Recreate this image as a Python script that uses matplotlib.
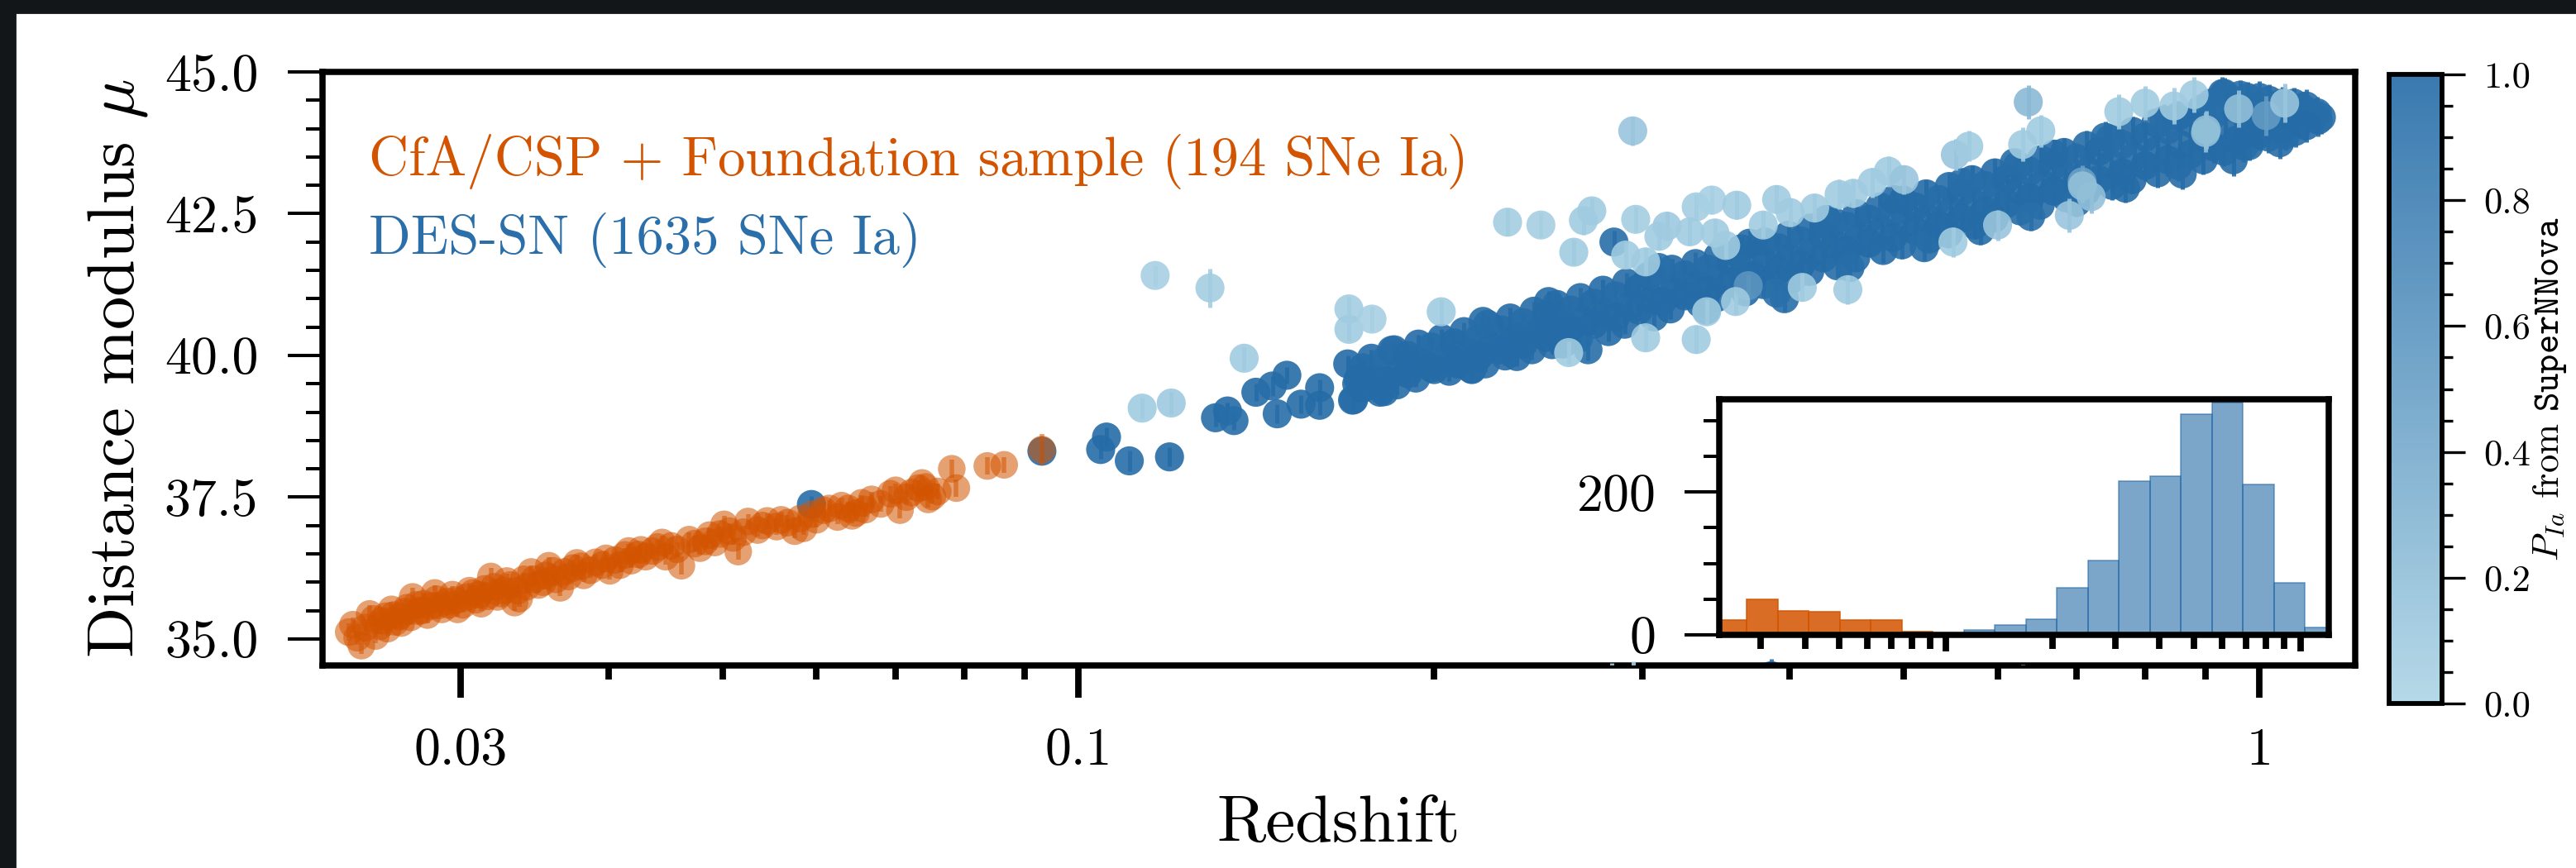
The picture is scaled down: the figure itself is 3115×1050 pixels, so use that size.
import numpy as np
import matplotlib.pyplot as plt
from matplotlib.colors import LinearSegmentedColormap
from matplotlib.patches import Rectangle
from matplotlib.ticker import (FixedLocator, FixedFormatter, LogLocator,
                               MultipleLocator, NullFormatter, FormatStrFormatter)

plt.rcParams['font.family'] = 'serif'
plt.rcParams['font.serif'] = ['cmr10']
plt.rcParams['mathtext.fontset'] = 'cm'
plt.rcParams['axes.unicode_minus'] = False
plt.rcParams['axes.formatter.use_mathtext'] = True

# CfA/CSP + Foundation low-z sample
low_z = [0.0241, 0.0247, 0.0251, 0.0254, 0.0257, 0.0260, 0.0262, 0.0264, 0.0266, 0.0270,
         0.0273, 0.0276, 0.0279, 0.0281, 0.0285, 0.0287, 0.0292, 0.0295, 0.0298, 0.0303,
         0.0307, 0.0309, 0.0312, 0.0314, 0.0318, 0.0322, 0.0326, 0.0330, 0.0333, 0.0336,
         0.0341, 0.0344, 0.0346, 0.0352, 0.0356, 0.0361, 0.0364, 0.0370, 0.0376, 0.0381,
         0.0386, 0.0395, 0.0401, 0.0405, 0.0413, 0.0418, 0.0424, 0.0426, 0.0436, 0.0440,
         0.0447, 0.0452, 0.0461, 0.0468, 0.0478, 0.0487, 0.0497, 0.0501, 0.0510, 0.0515,
         0.0525, 0.0535, 0.0545, 0.0555, 0.0567, 0.0581, 0.0585, 0.0595, 0.0608, 0.0625,
         0.0630, 0.0643, 0.0648, 0.0660, 0.0668, 0.0693, 0.0706, 0.0715, 0.0732, 0.0737,
         0.0746, 0.0752, 0.0760, 0.0781, 0.0788, 0.0837, 0.0865, 0.0931,
         0.0243, 0.0245, 0.0249, 0.0253, 0.0256, 0.0259, 0.0263, 0.0267, 0.0269, 0.0272,
         0.0275, 0.0278, 0.0283, 0.0286, 0.0289, 0.0293, 0.0297, 0.0301, 0.0305, 0.0311,
         0.0316, 0.0320, 0.0324, 0.0328, 0.0335, 0.0339, 0.0349, 0.0354, 0.0359, 0.0367,
         0.0373, 0.0379, 0.0390, 0.0398, 0.0409, 0.0416, 0.0430, 0.0444, 0.0457, 0.0473,
         0.0483, 0.0492, 0.0506, 0.0520, 0.0540, 0.0560, 0.0575, 0.0600, 0.0615, 0.0638,
         0.0655, 0.0680, 0.0700, 0.0722, 0.0742]
low_mu = [35.12, 34.88, 35.44, 35.05, 35.32, 35.18, 35.52, 35.30, 35.39, 35.55,
          35.74, 35.49, 35.62, 35.42, 35.81, 35.59, 35.66, 35.78, 35.52, 35.73,
          35.81, 35.69, 35.62, 35.88, 36.10, 35.74, 35.85, 35.95, 35.64, 35.71,
          35.92, 36.18, 36.05, 36.00, 36.29, 36.05, 35.90, 36.10, 36.34, 36.12,
          36.21, 36.30, 36.20, 36.39, 36.48, 36.38, 36.49, 36.57, 36.55, 36.62,
          36.45, 36.64, 36.29, 36.75, 36.60, 36.83, 36.85, 37.02, 36.78, 36.54,
          37.07, 36.92, 37.08, 36.98, 37.05, 37.12, 36.95, 37.20, 37.27, 37.15,
          37.35, 37.17, 37.22, 37.28, 37.46, 37.56, 37.27, 37.50, 37.66, 37.75,
          37.46, 37.51, 37.60, 38.00, 37.66, 38.05, 38.07, 38.34,
          35.25, 35.02, 35.20, 35.35, 35.22, 35.40, 35.42, 35.28, 35.48, 35.38,
          35.60, 35.50, 35.58, 35.70, 35.52, 35.60, 35.68, 35.60, 35.85, 35.78,
          35.75, 35.92, 35.80, 36.02, 35.85, 36.05, 35.95, 36.12, 36.20, 36.18,
          36.25, 36.28, 36.35, 36.42, 36.30, 36.55, 36.45, 36.70, 36.58, 36.68,
          36.72, 36.70, 36.90, 36.88, 37.00, 37.10, 36.90, 37.10, 37.30, 37.30,
          37.40, 37.38, 37.62, 37.58, 37.68]
low_err = [0.15, 0.14, 0.16, 0.12, 0.15, 0.13, 0.14, 0.12, 0.15, 0.13,
           0.16, 0.14, 0.12, 0.15, 0.13, 0.12, 0.14, 0.15, 0.13, 0.12,
           0.14, 0.16, 0.13, 0.12, 0.15, 0.14, 0.13, 0.12, 0.15, 0.14,
           0.13, 0.12, 0.14, 0.13, 0.15, 0.12, 0.14, 0.13, 0.15, 0.12,
           0.14, 0.13, 0.15, 0.14, 0.12, 0.13, 0.15, 0.14, 0.13, 0.12,
           0.14, 0.15, 0.16, 0.13, 0.12, 0.14, 0.13, 0.15, 0.12, 0.14,
           0.13, 0.12, 0.14, 0.15, 0.13, 0.14, 0.12, 0.13, 0.15, 0.12,
           0.14, 0.13, 0.15, 0.12, 0.14, 0.13, 0.15, 0.12, 0.14, 0.13,
           0.15, 0.12, 0.14, 0.16, 0.15, 0.15, 0.14, 0.28,
           0.13, 0.12, 0.14, 0.13, 0.12, 0.14, 0.13, 0.12, 0.13, 0.14,
           0.12, 0.13, 0.14, 0.12, 0.13, 0.14, 0.12, 0.13, 0.14, 0.12,
           0.13, 0.14, 0.12, 0.13, 0.14, 0.12, 0.13, 0.14, 0.12, 0.13,
           0.14, 0.12, 0.13, 0.14, 0.12, 0.13, 0.14, 0.12, 0.13, 0.14,
           0.12, 0.13, 0.14, 0.12, 0.13, 0.14, 0.12, 0.13, 0.14, 0.12,
           0.13, 0.14, 0.12, 0.13, 0.14]

# DES-SN, high-probability SNe Ia
des_z = [0.0594, 0.0931, 0.1044, 0.1056, 0.1104, 0.1194, 0.1306, 0.1337, 0.1354, 0.1413,
         0.1459, 0.1473, 0.1501, 0.1543, 0.1600, 0.1600, 0.1706, 0.1725, 0.1815, 0.1841,
         0.1946, 0.2000, 0.2094, 0.2153, 0.2214, 0.2297, 0.2362, 0.2451, 0.2517, 0.2556,
         0.169, 0.172, 0.171, 0.177, 0.179, 0.180, 0.185, 0.187, 0.186, 0.194, 0.196, 0.193,
         0.203, 0.205, 0.206, 0.212, 0.214, 0.215, 0.222, 0.224, 0.221, 0.232, 0.234, 0.235,
         0.243, 0.245, 0.242, 0.254, 0.256, 0.257, 0.266, 0.268, 0.265,
         0.278, 0.280, 0.281, 0.284, 0.291, 0.293, 0.290, 0.304, 0.306, 0.307,
         0.318, 0.320, 0.317, 0.333, 0.335, 0.336, 0.348, 0.350, 0.347, 0.364, 0.366, 0.367,
         0.381, 0.383, 0.380, 0.399, 0.401, 0.402, 0.396, 0.417, 0.419, 0.416,
         0.436, 0.438, 0.439, 0.456, 0.458, 0.455, 0.477, 0.479, 0.480, 0.499, 0.501, 0.498,
         0.522, 0.524, 0.525, 0.546, 0.548, 0.545, 0.571, 0.573, 0.574, 0.597, 0.599, 0.596,
         0.624, 0.626, 0.627, 0.653, 0.655, 0.652, 0.683, 0.685, 0.686, 0.714, 0.716, 0.713,
         0.747, 0.749, 0.750, 0.781, 0.783, 0.780, 0.817, 0.819, 0.820, 0.854, 0.856, 0.853,
         0.893, 0.895, 0.896, 0.934, 0.936, 0.933, 0.977, 0.979, 0.980, 1.019, 1.021, 1.018,
         1.069, 1.071, 1.072, 1.119, 1.121,
         1.128, 1.086, 1.035, 0.963, 0.930, 0.976, 0.970, 1.052, 0.3860]
des_mu = [37.37, 38.31, 38.34, 38.56, 38.14, 38.21, 38.90, 39.02, 38.85, 39.35,
          39.46, 38.97, 39.65, 39.14, 39.43, 39.12, 39.21, 39.58, 39.36, 40.09,
          39.89, 39.75, 39.85, 39.75, 40.09, 39.99, 40.33, 40.43, 40.19, 40.67,
          39.85, 39.50, 39.22, 39.95, 39.58, 39.35, 40.10, 39.72, 39.48, 40.20, 39.85, 39.60,
          40.30, 39.95, 39.72, 40.42, 40.05, 39.76, 40.55, 40.15, 39.85, 40.66, 40.28, 39.98,
          40.78, 40.40, 40.10, 40.90, 40.52, 40.20, 41.02, 40.62, 40.30,
          41.15, 40.75, 40.42, 42.00, 41.28, 40.88, 40.55, 41.40, 41.00, 40.68,
          41.52, 41.12, 40.82, 41.62, 41.25, 40.92, 41.75, 41.35, 41.02, 41.88, 41.46, 41.12,
          42.00, 41.60, 41.25, 42.12, 41.72, 41.35, 41.00, 42.25, 41.82, 41.48,
          42.36, 41.95, 41.58, 42.50, 42.08, 41.72, 42.62, 42.20, 41.85, 42.74, 42.32, 41.95,
          42.85, 42.42, 42.05, 42.98, 42.55, 42.15, 43.10, 42.68, 42.30, 43.22, 42.80, 42.42,
          43.35, 42.92, 42.55, 43.45, 43.02, 42.65, 43.58, 43.15, 42.78, 43.70, 43.25, 42.90,
          43.82, 43.38, 43.00, 43.95, 43.50, 43.10, 44.10, 43.62, 43.22, 44.22, 43.72, 43.35,
          44.35, 43.85, 43.45, 44.62, 44.05, 43.60, 44.55, 44.12, 43.70, 44.50, 44.15, 43.85,
          44.45, 44.25, 43.95, 44.28, 44.15,
          44.20, 44.37, 44.20, 44.59, 44.62, 44.18, 43.69, 43.89, 34.35]
des_err = [0.15, 0.18, 0.16, 0.17, 0.18, 0.17, 0.16, 0.15, 0.17, 0.16,
           0.18, 0.17, 0.15, 0.16, 0.15, 0.17, 0.16, 0.15, 0.16, 0.15,
           0.16, 0.17, 0.15, 0.16, 0.15, 0.17, 0.16, 0.15, 0.16, 0.15,
           0.15, 0.16, 0.14, 0.15, 0.17, 0.16, 0.15, 0.14, 0.16, 0.17, 0.15, 0.16,
           0.16, 0.15, 0.17, 0.16, 0.15, 0.18, 0.17, 0.16, 0.15, 0.18, 0.16, 0.17,
           0.17, 0.16, 0.18, 0.18, 0.17, 0.16, 0.18, 0.17, 0.19,
           0.19, 0.18, 0.17, 0.20, 0.18, 0.19, 0.17, 0.20, 0.18, 0.19,
           0.19, 0.20, 0.18, 0.20, 0.19, 0.21, 0.21, 0.19, 0.20, 0.20, 0.22, 0.19,
           0.21, 0.20, 0.22, 0.22, 0.21, 0.20, 0.23, 0.22, 0.21, 0.23,
           0.23, 0.22, 0.21, 0.24, 0.22, 0.23, 0.23, 0.24, 0.22, 0.25, 0.23, 0.24,
           0.24, 0.25, 0.23, 0.24, 0.24, 0.25, 0.25, 0.24, 0.24, 0.25, 0.25, 0.24,
           0.25, 0.24, 0.25, 0.26, 0.25, 0.24, 0.25, 0.26, 0.25, 0.26, 0.25, 0.26,
           0.26, 0.25, 0.26, 0.27, 0.26, 0.25, 0.26, 0.27, 0.26, 0.27, 0.26, 0.27,
           0.27, 0.28, 0.26, 0.28, 0.27, 0.26, 0.28, 0.27, 0.26, 0.28, 0.27, 0.28,
           0.28, 0.27, 0.28, 0.29, 0.28,
           0.29, 0.28, 0.28, 0.27, 0.29, 0.27, 0.28, 0.28, 0.30]
des_p = [0.97, 0.98, 0.98, 0.99, 0.97, 0.99, 0.98, 0.99, 0.97, 0.99,
         0.98, 0.97, 0.99, 0.99, 0.98, 0.99, 0.98, 0.99, 0.97, 0.99,
         0.98, 0.99, 0.98, 0.99, 0.98, 0.99, 0.97, 0.99, 0.98, 0.99,
         1.00, 0.99, 0.98, 1.00, 0.99, 1.00, 0.98, 1.00, 0.99, 1.00, 0.99, 0.98,
         1.00, 0.99, 1.00, 0.98, 1.00, 0.99, 1.00, 0.99, 0.98, 1.00, 0.99, 1.00,
         0.99, 1.00, 0.98, 1.00, 0.99, 1.00, 0.98, 1.00, 0.99,
         1.00, 0.99, 1.00, 0.97, 0.98, 1.00, 0.99, 1.00, 0.99, 0.98,
         1.00, 0.99, 1.00, 0.98, 1.00, 0.99, 1.00, 0.98, 0.99, 1.00, 0.99, 1.00,
         0.98, 1.00, 0.99, 1.00, 0.99, 0.98, 0.97, 1.00, 0.99, 1.00,
         0.99, 1.00, 0.98, 1.00, 0.99, 1.00, 0.98, 1.00, 0.99, 1.00, 0.99, 0.98,
         1.00, 0.99, 1.00, 0.98, 1.00, 0.99, 1.00, 0.99, 0.98, 1.00, 0.99, 1.00,
         0.98, 1.00, 0.99, 1.00, 0.99, 0.98, 1.00, 0.99, 1.00, 0.98, 1.00, 0.99,
         1.00, 0.99, 0.98, 1.00, 0.99, 1.00, 0.98, 1.00, 0.99, 1.00, 0.99, 0.98,
         1.00, 0.99, 1.00, 0.97, 1.00, 0.99, 1.00, 0.98, 0.99, 1.00, 0.99, 0.98,
         0.99, 1.00, 0.98, 0.97, 0.99,
         0.97, 0.98, 0.96, 0.97, 0.98, 0.99, 0.97, 0.96, 0.95]

# more DES SNe Ia sitting inside the Hubble-flow band and along its edges
fill_z = [0.174, 0.174, 0.182, 0.182, 0.190, 0.190, 0.199, 0.199, 0.208, 0.208,
          0.218, 0.218, 0.228, 0.228, 0.238, 0.238, 0.249, 0.249, 0.261, 0.261,
          0.273, 0.273, 0.285, 0.285, 0.298, 0.298, 0.312, 0.312, 0.326, 0.326,
          0.341, 0.341, 0.357, 0.357, 0.373, 0.373, 0.391, 0.391, 0.409, 0.409,
          0.427, 0.427, 0.447, 0.447, 0.467, 0.467, 0.489, 0.489, 0.511, 0.511,
          0.535, 0.535, 0.559, 0.559, 0.585, 0.585, 0.611, 0.611, 0.639, 0.639,
          0.669, 0.669, 0.699, 0.699, 0.731, 0.731, 0.765, 0.765, 0.800, 0.800,
          0.836, 0.836, 0.874, 0.874, 0.914, 0.914, 0.956, 0.956, 0.999, 0.999,
          1.045, 1.045, 1.095, 1.095,
          0.310, 0.340, 0.370, 0.390, 0.430, 0.450, 0.490, 0.520, 0.560, 0.580,
          0.620, 0.640, 0.670, 0.700, 0.740, 0.770, 0.830, 0.860, 0.910, 0.950,
          1.000, 1.040, 0.250, 0.270, 0.220]
fill_mu = [39.78, 39.42, 39.92, 39.55, 40.00, 39.68, 40.15, 39.78, 40.22, 39.88,
           40.30, 39.97, 40.45, 40.10, 40.58, 40.20, 40.70, 40.32, 40.80, 40.45,
           40.92, 40.55, 41.05, 40.68, 41.18, 40.80, 41.30, 40.95, 41.42, 41.05,
           41.52, 41.15, 41.65, 41.28, 41.78, 41.40, 41.90, 41.50, 42.02, 41.60,
           42.12, 41.72, 42.28, 41.85, 42.40, 41.98, 42.52, 42.08, 42.62, 42.20,
           42.75, 42.30, 42.88, 42.42, 43.00, 42.55, 43.12, 42.68, 43.25, 42.78,
           43.35, 42.90, 43.48, 43.02, 43.60, 43.10, 43.72, 43.22, 43.85, 43.35,
           43.98, 43.45, 44.10, 43.55, 44.25, 43.68, 44.35, 43.80, 44.40, 43.90,
           44.45, 43.98, 44.40, 44.05,
           41.55, 40.80, 41.98, 41.10, 42.40, 41.55, 42.75, 41.90, 43.05, 42.20,
           43.40, 42.45, 43.55, 42.70, 43.85, 42.95, 44.15, 43.20, 44.45, 43.45,
           44.55, 43.75, 40.95, 40.10, 40.60]
fill_err = [0.15, 0.16, 0.15, 0.16, 0.16, 0.15, 0.16, 0.17, 0.17, 0.16,
            0.17, 0.16, 0.17, 0.18, 0.18, 0.17, 0.18, 0.17, 0.18, 0.19,
            0.19, 0.18, 0.19, 0.20, 0.20, 0.19, 0.20, 0.19, 0.20, 0.21,
            0.21, 0.20, 0.21, 0.22, 0.22, 0.21, 0.22, 0.21, 0.22, 0.23,
            0.23, 0.22, 0.23, 0.24, 0.24, 0.23, 0.24, 0.23, 0.24, 0.25,
            0.24, 0.24, 0.25, 0.24, 0.25, 0.24, 0.25, 0.25, 0.26, 0.25,
            0.26, 0.25, 0.26, 0.26, 0.27, 0.26, 0.27, 0.26, 0.27, 0.27,
            0.27, 0.28, 0.28, 0.27, 0.28, 0.28, 0.29, 0.28, 0.29, 0.28,
            0.29, 0.29, 0.30, 0.29,
            0.20, 0.21, 0.22, 0.21, 0.23, 0.22, 0.24, 0.23, 0.25, 0.24,
            0.25, 0.25, 0.26, 0.25, 0.27, 0.26, 0.28, 0.27, 0.28, 0.28,
            0.29, 0.28, 0.18, 0.19, 0.17]
fill_p = [0.99, 1.00, 0.98, 1.00, 0.99, 1.00, 0.98, 0.99, 1.00, 0.99,
          0.98, 1.00, 0.99, 1.00, 0.98, 0.99, 1.00, 0.99, 0.98, 1.00,
          0.99, 1.00, 0.98, 0.99, 1.00, 0.99, 0.98, 1.00, 0.99, 1.00,
          0.98, 0.99, 1.00, 0.99, 0.98, 1.00, 0.99, 1.00, 0.98, 0.99,
          1.00, 0.99, 0.98, 1.00, 0.99, 1.00, 0.98, 0.99, 1.00, 0.99,
          0.98, 1.00, 0.99, 1.00, 0.98, 0.99, 1.00, 0.99, 0.98, 1.00,
          0.99, 1.00, 0.98, 0.99, 1.00, 0.99, 0.98, 1.00, 0.99, 1.00,
          0.98, 0.99, 1.00, 0.99, 0.98, 1.00, 0.99, 1.00, 0.98, 0.99,
          1.00, 0.99, 0.98, 1.00,
          0.97, 0.98, 0.99, 0.96, 0.98, 0.97, 0.99, 0.98, 0.97, 0.99,
          0.98, 0.96, 0.99, 0.97, 0.98, 0.99, 0.97, 0.98, 0.96, 0.99,
          0.97, 0.98, 0.99, 0.97, 0.98]

# DES-SN, lower-probability and off-band objects
out_z = [0.1132, 0.1198, 0.1161, 0.1292, 0.1381, 0.1694, 0.1694, 0.1772, 0.2028, 0.2308,
         0.2463, 0.2676, 0.2626, 0.2946, 0.2963, 0.3149, 0.2906, 0.3021, 0.3334, 0.3437,
         0.3608, 0.3293, 0.3458, 0.3531, 0.3021, 0.3334, 0.3403, 0.3690, 0.4004, 0.4405,
         0.4530, 0.4481, 0.5526, 0.5672, 0.6301, 0.6370, 0.6527, 0.6901, 0.7075, 0.7080,
         0.8461, 0.9000, 0.9012, 1.0130,
         0.272, 0.310, 0.380, 0.390, 0.420, 0.470, 0.485, 0.500, 0.360, 0.410,
         0.260, 0.550, 0.600, 0.760, 0.800, 0.880, 0.960, 1.050, 0.720,
         0.1196, 0.2830, 0.2950, 0.3400, 0.4300, 0.5000, 0.6300, 0.6600]
out_mu = [39.07, 39.16, 41.41, 41.19, 39.95, 40.82, 40.46, 40.64, 40.77, 42.35,
          42.30, 42.38, 41.82, 43.96, 42.40, 42.28, 41.77, 41.65, 42.62, 42.74,
          42.65, 42.18, 42.16, 41.94, 40.31, 40.28, 40.77, 41.23, 42.52, 42.84,
          42.86, 41.16, 43.54, 43.69, 43.72, 44.47, 43.96, 42.47, 43.06, 42.99,
          44.40, 43.93, 43.98, 44.23,
          42.55, 42.10, 42.30, 42.75, 42.60, 43.05, 43.25, 43.10, 40.95, 41.20,
          40.05, 42.00, 42.30, 44.30, 44.45, 44.60, 44.35, 44.45, 42.80,
          34.05, 34.15, 34.25, 34.05, 34.10, 34.00, 34.20, 34.00]
out_err = [0.18, 0.20, 0.18, 0.34, 0.20, 0.22, 0.20, 0.22, 0.20, 0.24,
           0.22, 0.25, 0.22, 0.25, 0.23, 0.25, 0.22, 0.24, 0.22, 0.25,
           0.24, 0.22, 0.25, 0.23, 0.22, 0.24, 0.22, 0.20, 0.25, 0.26,
           0.25, 0.26, 0.28, 0.27, 0.30, 0.30, 0.28, 0.30, 0.30, 0.30,
           0.32, 0.35, 0.33, 0.35,
           0.22, 0.24, 0.23, 0.25, 0.24, 0.26, 0.27, 0.26, 0.22, 0.24,
           0.20, 0.26, 0.27, 0.30, 0.30, 0.32, 0.33, 0.34, 0.29,
           0.45, 0.42, 0.35, 0.45, 0.40, 0.50, 0.35, 0.50]
out_p = [0.10, 0.12, 0.05, 0.08, 0.10, 0.08, 0.10, 0.05, 0.10, 0.08,
         0.06, 0.10, 0.10, 0.15, 0.08, 0.12, 0.10, 0.10, 0.08, 0.05,
         0.10, 0.10, 0.10, 0.10, 0.10, 0.10, 0.10, 0.60, 0.10, 0.10,
         0.10, 0.10, 0.15, 0.10, 0.10, 0.25, 0.10, 0.15, 0.50, 0.20,
         0.10, 0.20, 0.20, 0.55,
         0.10, 0.10, 0.10, 0.10, 0.10, 0.10, 0.10, 0.15, 0.10, 0.10,
         0.10, 0.10, 0.15, 0.10, 0.10, 0.10, 0.20, 0.15, 0.20,
         0.10, 0.10, 0.05, 0.10, 0.10, 0.10, 0.10, 0.10]

# redshift histogram (log-spaced bins)
zbin_edges = np.logspace(np.log10(0.02236), np.log10(1.259), 21)
n_low = [21, 50, 34, 32, 21, 21, 5, 0, 0, 0, 0, 0, 0, 0, 0, 0, 0, 0, 0, 0]
n_des = [0, 0, 0, 0, 0, 0, 0, 0, 7, 14, 22, 66, 104, 215, 222, 309, 325, 211, 73, 10]

orange = '#d35400'
blue_txt = '#2a6eaa'
cmap = LinearSegmentedColormap.from_list('pia', ['#aed5e6', '#246ba7'])

fig = plt.figure(figsize=(15.575, 5.25), dpi=200)
fig.patches.append(Rectangle((0, 1 - 15 / 1050), 1, 15 / 1050, transform=fig.transFigure,
                             color='#131619', zorder=-1))
fig.patches.append(Rectangle((0, 0), 18 / 3115, 1, transform=fig.transFigure,
                             color='#131619', zorder=-1))

ax = fig.add_axes([0.1252, 0.2333, 0.7891, 0.6838])

# DES band first, then the outliers, low-z sample on top
dz = np.array(des_z + fill_z)
dmu = np.array(des_mu + fill_mu)
de = np.array(des_err + fill_err)
dp = np.array(des_p + fill_p)
ax.vlines(dz, dmu - de, dmu + de, colors=cmap(dp), alpha=0.9, lw=1.8, zorder=2)
ax.scatter(dz, dmu, c=dp, cmap=cmap, vmin=0, vmax=1, s=160, alpha=0.9,
           edgecolors='none', zorder=2)

oz, omu, oe, op = map(np.array, (out_z, out_mu, out_err, out_p))
ax.vlines(oz, omu - oe, omu + oe, colors=cmap(op), alpha=0.9, lw=1.8, zorder=3)
sc = ax.scatter(oz, omu, c=op, cmap=cmap, vmin=0, vmax=1, s=160, alpha=0.9,
                edgecolors='none', zorder=3)

lz, lmu, le = map(np.array, (low_z, low_mu, low_err))
ax.vlines(lz, lmu - le, lmu + le, colors=orange, alpha=0.55, lw=2.0, zorder=4)
ax.scatter(lz, lmu, color=orange, s=145, alpha=0.55, edgecolors='none', zorder=4)

ax.set_xscale('log')
ax.set_xlim(0.0229, 1.205)
ax.set_ylim(34.53, 45.0)

ax.xaxis.set_major_locator(FixedLocator([0.03, 0.1, 1]))
ax.xaxis.set_major_formatter(FixedFormatter(['0.03', '0.1', '1']))
ax.xaxis.set_minor_locator(LogLocator(base=10, subs=np.arange(2, 10)))
ax.xaxis.set_minor_formatter(NullFormatter())
ax.yaxis.set_major_locator(MultipleLocator(2.5))
ax.yaxis.set_minor_locator(MultipleLocator(0.5))
ax.yaxis.set_major_formatter(FormatStrFormatter('%.1f'))

ax.tick_params(axis='x', which='major', length=14, width=2.8, pad=13, labelsize=23)
ax.tick_params(axis='x', which='minor', length=6.2, width=2.8)
ax.tick_params(axis='y', which='major', length=15, width=1.45, pad=13, labelsize=23)
ax.tick_params(axis='y', which='minor', length=7.2, width=1.45)
for s in ax.spines.values():
    s.set_linewidth(2.7)

ax.set_xlabel('Redshift', fontsize=29)
ax.xaxis.set_label_coords(0.5, -0.2187)
ax.set_ylabel(r'Distance modulus $\mu$', fontsize=29)
ax.yaxis.set_label_coords(-0.085, 0.5)

ax.text(0.0228, 0.8259, 'CfA/CSP + Foundation sample (194 SNe Ia)', color=orange,
        fontsize=24, transform=ax.transAxes, va='baseline')
ax.text(0.0228, 0.6936, 'DES-SN (1635 SNe Ia)', color=blue_txt,
        fontsize=24, transform=ax.transAxes, va='baseline')

# colour bar for the classification probability
cax = fig.add_axes([0.9274, 0.1895, 0.02055, 0.7248])
cb = fig.colorbar(sc, cax=cax)
cb.outline.set_linewidth(2.1)
cb.set_ticks([0.0, 0.2, 0.4, 0.6, 0.8, 1.0])
cb.ax.yaxis.set_major_formatter(FormatStrFormatter('%.1f'))
cb.ax.yaxis.set_minor_locator(MultipleLocator(0.05))
cb.ax.tick_params(which='major', length=10, width=1.2, labelsize=16, pad=8)
cb.ax.tick_params(which='minor', length=4.7, width=1.2)
cb.set_label(r'$P_{Ia}$ from $\mathtt{SuperNNova}$', fontsize=16, labelpad=0)

# inset: redshift distribution of both samples
axins = fig.add_axes([0.6674, 0.2686, 0.2366, 0.2714])
widths = np.diff(zbin_edges)
axins.bar(zbin_edges[:-1], n_des, width=widths, align='edge', color='#246ba7',
          alpha=0.6, edgecolor='#246ba7', linewidth=0.6)
axins.bar(zbin_edges[:-1], n_low, width=widths, align='edge', color=orange,
          alpha=0.85, edgecolor=orange, linewidth=0.6)
axins.set_xscale('log')
axins.set_xlim(0.0229, 1.2)
axins.set_ylim(0, 330)
axins.xaxis.set_major_locator(FixedLocator([0.1, 1]))
axins.xaxis.set_major_formatter(NullFormatter())
axins.xaxis.set_minor_locator(LogLocator(base=10, subs=np.arange(2, 10)))
axins.xaxis.set_minor_formatter(NullFormatter())
axins.yaxis.set_major_locator(FixedLocator([0, 200]))
axins.yaxis.set_minor_locator(MultipleLocator(50))
axins.tick_params(axis='x', which='major', length=7.2, width=2.8)
axins.tick_params(axis='x', which='minor', length=6.1, width=2.8)
axins.tick_params(axis='y', which='major', length=15, width=1.45, pad=13, labelsize=23)
axins.tick_params(axis='y', which='minor', length=7, width=1.45)
for s in axins.spines.values():
    s.set_linewidth(2.7)

fig.savefig('out.png', dpi=200)
